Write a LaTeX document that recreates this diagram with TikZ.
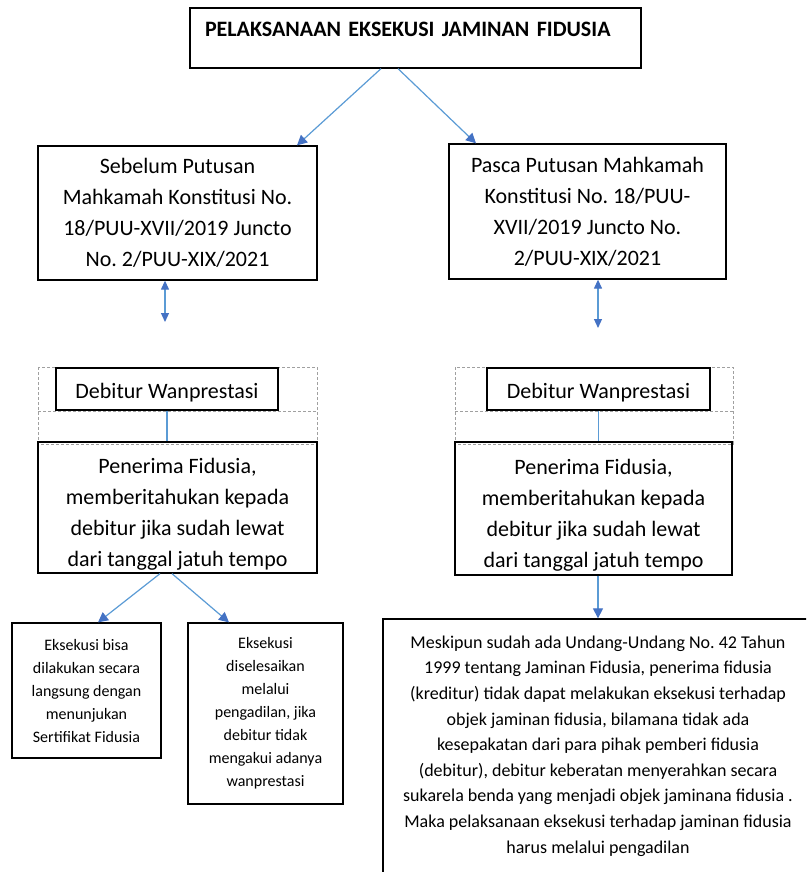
\documentclass[tikz,border=0pt]{standalone}
\usepackage{fontspec}
\setmainfont{Carlito}
\frenchspacing
\usetikzlibrary{arrows.meta, positioning, calc}
\definecolor{cBlue}{RGB}{91,155,213}
\definecolor{cBlueDk}{RGB}{68,114,196}
\definecolor{cDash}{RGB}{160,160,160}
\newcommand{\penstrut}{\rule{0pt}{28pt}}
\tikzset{
	blk/.style   ={rectangle, draw=black, line width=1.3pt, align=center, inner sep=0pt, font=\fontsize{22}{31}\selectfont},
	hdr/.style   ={blk, minimum width=451pt, minimum height=60pt, text width=421pt, align=left, text height=14pt, text depth=16pt, font=\bfseries\fontsize{22}{26}\selectfont},
	debblk/.style={blk, minimum height=42pt, execute at begin node=\rule{0pt}{22pt}},
	smallblk/.style={blk, font=\fontsize{16}{23}\selectfont},
	notebox/.style={blk, font=\fontsize{18}{25.6}\selectfont},
	dashfrm/.style={draw=cDash, line width=0.9pt, dash pattern=on 3pt off 2pt},
	% blue connectors
	conn/.style  ={cBlue, line width=1.2pt},
	sig/.style   ={conn, -{Triangle[length=10pt, width=10pt, color=cBlueDk]}},
	dsig/.style  ={conn, {Triangle[length=9pt, width=8pt, color=cBlueDk]}-{Triangle[length=9pt, width=8pt, color=cBlueDk]}},
}
\begin{document}
\begin{tikzpicture}[x=1pt, y=-1pt]
	\useasboundingbox (0,0) rectangle (806,872);
	\clip (0,0) rectangle (806,872);
	\node[hdr] (title) at (415.5,38) {PELAKSANAAN EKSEKUSI JAMINAN FIDUSIA};
	\node[blk, minimum width=279pt, minimum height=134pt] (sebelum) at (177.5,213) {Sebelum Putusan\\Mahkamah Konstitusi No.\\18/PUU-XVII/2019 Juncto\\No. 2/PUU-XIX/2021};
	\node[blk, minimum width=277pt, minimum height=135pt] (pasca) at (587.5,211.5) {Pasca Putusan Mahkamah\\Konstitusi No. 18/PUU-\\XVII/2019 Juncto No.\\2/PUU-XIX/2021};
	% dashed frames round the Debitur boxes
	\draw[dashfrm] (38,367) rectangle (317,444) (38,411) -- (317,411);
	\draw[dashfrm] (455,367) rectangle (733,444) (455,411) -- (733,411);
	\node[debblk, minimum width=222pt] (debL) at (167,389) {Debitur Wanprestasi};
	\node[debblk, minimum width=223pt] (debR) at (598.5,389) {Debitur Wanprestasi};
	\node[blk, minimum width=279pt, minimum height=131pt] (penL) at (177.5,507.5) {\penstrut Penerima Fidusia,\\memberitahukan kepada\\debitur jika sudah lewat\\dari tanggal jatuh tempo};
	\node[blk, minimum width=277pt, minimum height=133pt] (penR) at (593.5,508.5) {\penstrut Penerima Fidusia,\\memberitahukan kepada\\debitur jika sudah lewat\\dari tanggal jatuh tempo};
	\node[smallblk, minimum width=149pt, minimum height=135pt] (box1) at (86.5,690.5) {Eksekusi bisa\\dilakukan secara\\langsung dengan\\menunjukan\\Sertifikat Fidusia};
	\node[smallblk, minimum width=155pt, minimum height=181pt] (box2) at (265.5,713.5) {Eksekusi\\diselesaikan\\melalui\\pengadilan, jika\\debitur tidak\\mengakui adanya\\wanprestasi};
	\node[notebox, minimum width=430pt, minimum height=254pt] (note) at (598,746) {Meskipun sudah ada Undang-Undang No. 42 Tahun\\1999 tentang Jaminan Fidusia, penerima fidusia\\(kreditur) tidak dapat melakukan eksekusi terhadap\\objek jaminan fidusia, bilamana tidak ada\\kesepakatan dari para pihak pemberi fidusia\\(debitur), debitur keberatan menyerahkan secara\\sukarela benda yang menjadi objek jaminana fidusia .\\Maka pelaksanaan eksekusi terhadap jaminan fidusia\\harus melalui pengadilan};
	% connectors
	\coordinate (dL) at (165,322);
	\coordinate (dR) at (598,328);
	\draw[sig] ($(title.south)+(-34.5,0)$) -- ($(sebelum.north)+(119.5,0)$);
	\draw[sig] ($(title.south)+(-17.5,0)$) -- ($(pasca.north)+(-111.5,0)$);
	\draw[dsig] (sebelum.south -| dL) -- (dL);
	\draw[dsig] (pasca.south -| dR) -- (dR);
	\draw[conn] (debL.south) -- (debL.south |- penL.north);
	\draw[conn] (debR.south) -- (debR.south |- penR.north);
	\draw[sig] ($(penL.south)+(-17.5,0)$) -- ($(box1.north)+(11.5,0)$);
	\draw[sig] ($(penL.south)+(-5.5,0)$) -- ($(box2.north)+(-36.5,0)$);
	\draw[sig] (note.north |- penR.south) -- (note.north);
\end{tikzpicture}
\end{document}
